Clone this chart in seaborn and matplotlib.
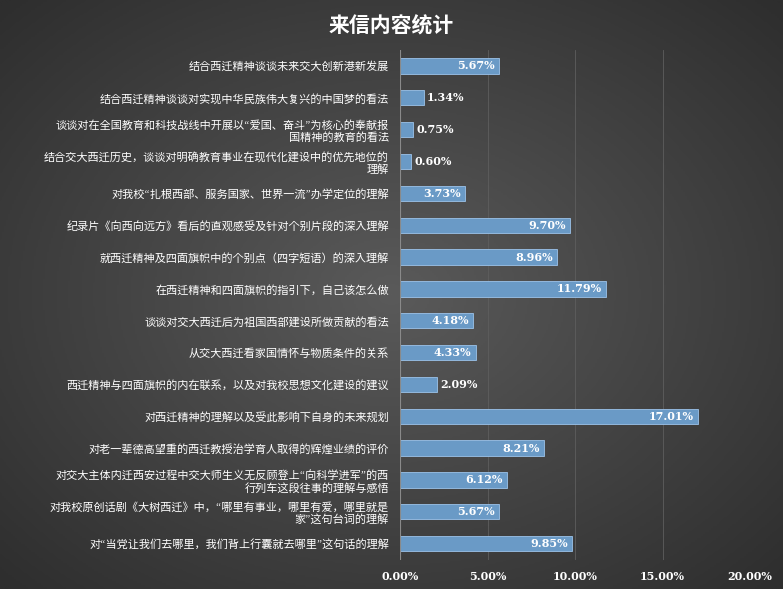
import matplotlib
matplotlib.use("Agg")
import matplotlib.pyplot as plt
from matplotlib import font_manager
import numpy as np
import pandas as pd
import seaborn as sns

avail = {f.name for f in font_manager.fontManager.ttflist}
cjk = [n for n in ["Noto Sans CJK SC", "Noto Sans CJK JP", "Noto Sans CJK TC", "Noto Sans CJK KR"] if n in avail]
plt.rcParams["font.family"] = cjk + ["DejaVu Sans"]
plt.rcParams["font.sans-serif"] = cjk + ["DejaVu Sans"]

categories = [
    "结合西迁精神谈谈未来交大创新港新发展",
    "结合西迁精神谈谈对实现中华民族伟大复兴的中国梦的看法",
    "谈谈对在全国教育和科技战线中开展以“爱国、奋斗”为核心的奉献报\n国精神的教育的看法",
    "结合交大西迁历史，谈谈对明确教育事业在现代化建设中的优先地位的\n理解",
    "对我校“扎根西部、服务国家、世界一流”办学定位的理解",
    "纪录片《向西向远方》看后的直观感受及针对个别片段的深入理解",
    "就西迁精神及四面旗帜中的个别点（四字短语）的深入理解",
    "在西迁精神和四面旗帜的指引下，自己该怎么做",
    "谈谈对交大西迁后为祖国西部建设所做贡献的看法",
    "从交大西迁看家国情怀与物质条件的关系",
    "西迁精神与四面旗帜的内在联系，以及对我校思想文化建设的建议",
    "对西迁精神的理解以及受此影响下自身的未来规划",
    "对老一辈德高望重的西迁教授治学育人取得的辉煌业绩的评价",
    "对交大主体内迁西安过程中交大师生义无反顾登上“向科学进军”的西\n行列车这段往事的理解与感悟",
    "对我校原创话剧《大树西迁》中，“哪里有事业，哪里有爱，哪里就是\n家”这句台词的理解",
    "对“当党让我们去哪里，我们背上行囊就去哪里”这句话的理解",
]
values = [5.67, 1.34, 0.75, 0.60, 3.73, 9.70, 8.96, 11.79, 4.18, 4.33, 2.09, 17.01, 8.21, 6.12, 5.67, 9.85]
xticks = [0, 5, 10, 15, 20]

df = pd.DataFrame({"cat": categories, "val": values})

fig = plt.figure(figsize=(7.83, 5.89), dpi=100)
bg = fig.add_axes([0, 0, 1, 1], zorder=-10)
yy, xx = np.mgrid[-1:1:300j, -1:1:400j]
r = np.sqrt(xx**2 + yy**2)
bg.imshow(r, cmap=matplotlib.colors.LinearSegmentedColormap.from_list("g", ["#5a5a5a", "#2e2e2e"]),
          aspect="auto", extent=[0, 1, 0, 1], vmin=0, vmax=1.4)
bg.axis("off")

ax = fig.add_axes([0.511, 0.05, 0.447, 0.865])
ax.set_facecolor("none")
sns.barplot(data=df, y="cat", x="val", orient="h", color="#5b9bd5", width=0.48, ax=ax,
            edgecolor="#9cc3ea", linewidth=0.6)
for i, v in enumerate(values):
    if v < 2.5:
        ax.text(v + 0.2, i, f"{v:.2f}%", ha="left", va="center", color="white",
                fontsize=8, fontweight="bold", family="DejaVu Serif")
    else:
        ax.text(v - 0.25, i, f"{v:.2f}%", ha="right", va="center", color="white",
                fontsize=8, fontweight="bold", family="DejaVu Serif")
ax.set_xlim(0, 20)
ax.set_xticks(xticks)
ax.set_xticklabels([f"{t:.2f}%" for t in xticks], color="white", fontsize=8,
                   fontweight="bold", family="DejaVu Serif")
ax.tick_params(axis="y", colors="white", labelsize=8, length=0, pad=8)
ax.tick_params(axis="x", length=0, pad=8)
for lab in ax.get_yticklabels():
    lab.set_color("white")
ax.set_xlabel("")
ax.set_ylabel("")
ax.grid(axis="x", color="#5e5e5e", linewidth=0.6)
ax.set_axisbelow(True)
for s in ax.spines.values():
    s.set_visible(False)
ax.axvline(0, color="#8a8a8a", linewidth=0.8)

fig.text(0.5, 0.955, "来信内容统计", ha="center", va="center", color="white",
         fontsize=15, fontweight="bold")
fig.savefig("out.png", dpi=100)
